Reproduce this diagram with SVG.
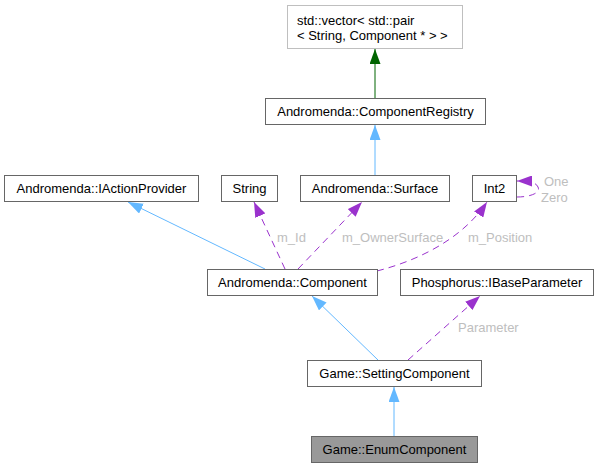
<svg xmlns="http://www.w3.org/2000/svg" width="599" height="468" viewBox="0 0 599 468">
<style>
.n rect{fill:#ffffff;stroke:#666666;stroke-width:1}
.n text{font-family:"Liberation Sans",Arial,sans-serif;font-size:13px;fill:#000000;text-anchor:middle}
.lbl{font-family:"Liberation Sans",Arial,sans-serif;font-size:13px;fill:#bebebe}
.e{fill:none;stroke-width:1}
.blue{stroke:#63b8ff}
.green{stroke:#006400}
.purple{stroke:#9a32cd;stroke-dasharray:7,5}
</style>
<defs>
<marker id="ab" viewBox="0 0 15 11" refX="15" refY="5.5" markerWidth="15" markerHeight="11" markerUnits="userSpaceOnUse" orient="auto"><path d="M0,0 L15,5.5 L0,11 z" fill="#63b8ff"/></marker>
<marker id="ag" viewBox="0 0 15 11" refX="15" refY="5.5" markerWidth="15" markerHeight="11" markerUnits="userSpaceOnUse" orient="auto"><path d="M0,0 L15,5.5 L0,11 z" fill="#006400"/></marker>
<marker id="ap" viewBox="0 0 15 11" refX="15" refY="5.5" markerWidth="15" markerHeight="11" markerUnits="userSpaceOnUse" orient="auto"><path d="M0,0 L15,5.5 L0,11 z" fill="#9a32cd"/></marker>
</defs>
<rect width="599" height="468" fill="#ffffff"/>
<g id="connectors">
<path class="e green" d="M375,98 L375,49" marker-end="url(#ag)"/>
<path class="e blue" d="M375,175 L375,125" marker-end="url(#ab)"/>
<path class="e blue" d="M265,269 L128,202" marker-end="url(#ab)"/>
<path class="e purple" d="M285,269 L254,202" marker-end="url(#ap)"/>
<path class="e purple" d="M298,269 L362,202" marker-end="url(#ap)"/>
<path class="e purple" d="M377,271 C420,260 463,238 487,202" marker-end="url(#ap)"/>
<path class="e purple" d="M517,197 C530,197 541,193 538,187 C536,182 528,181 517,181" marker-end="url(#ap)"/>
<path class="e blue" d="M378,360 L312,296" marker-end="url(#ab)"/>
<path class="e purple" d="M408,360 L480,296" marker-end="url(#ap)"/>
<path class="e blue" d="M394,436 L394,387" marker-end="url(#ab)"/>
<text class="lbl" x="277" y="242">m_Id</text>
<text class="lbl" x="342" y="242">m_OwnerSurface</text>
<text class="lbl" x="468" y="242">m_Position</text>
<text class="lbl" x="544" y="186">One</text>
<text class="lbl" x="541" y="202">Zero</text>
<text class="lbl" x="458" y="332">Parameter</text>
</g>
<g id="node_vector" class="n">
<rect x="287.5" y="5.5" width="175" height="43" style="stroke:#bfbfbf"/>
<text x="297" y="25" style="text-anchor:start">std::vector&lt; std::pair</text>
<text x="297" y="40" style="text-anchor:start">&lt; String, Component * &gt; &gt;</text>
</g>
<g id="node_registry" class="n">
<rect x="265.5" y="98.5" width="220" height="26"/>
<text x="375.5" y="116">Andromenda::ComponentRegistry</text>
</g>
<g id="node_iaction" class="n">
<rect x="4.5" y="175.5" width="194" height="26"/>
<text x="101.5" y="193">Andromenda::IActionProvider</text>
</g>
<g id="node_string" class="n">
<rect x="221.5" y="175.5" width="56" height="26"/>
<text x="249.5" y="193">String</text>
</g>
<g id="node_surface" class="n">
<rect x="300.5" y="175.5" width="149" height="26"/>
<text x="375" y="193">Andromenda::Surface</text>
</g>
<g id="node_int2" class="n">
<rect x="472.5" y="175.5" width="44" height="26"/>
<text x="494.5" y="193">Int2</text>
</g>
<g id="node_component" class="n">
<rect x="207.5" y="269.5" width="170" height="26"/>
<text x="292.5" y="287">Andromenda::Component</text>
</g>
<g id="node_ibaseparam" class="n">
<rect x="400.5" y="269.5" width="193" height="26"/>
<text x="497" y="287">Phosphorus::IBaseParameter</text>
</g>
<g id="node_setting" class="n">
<rect x="307.5" y="360.5" width="174" height="26"/>
<text x="394.5" y="378">Game::SettingComponent</text>
</g>
<g id="node_enum" class="n">
<rect x="311.5" y="436.5" width="166" height="26" style="fill:#999999"/>
<text x="394.5" y="454">Game::EnumComponent</text>
</g>
</svg>
